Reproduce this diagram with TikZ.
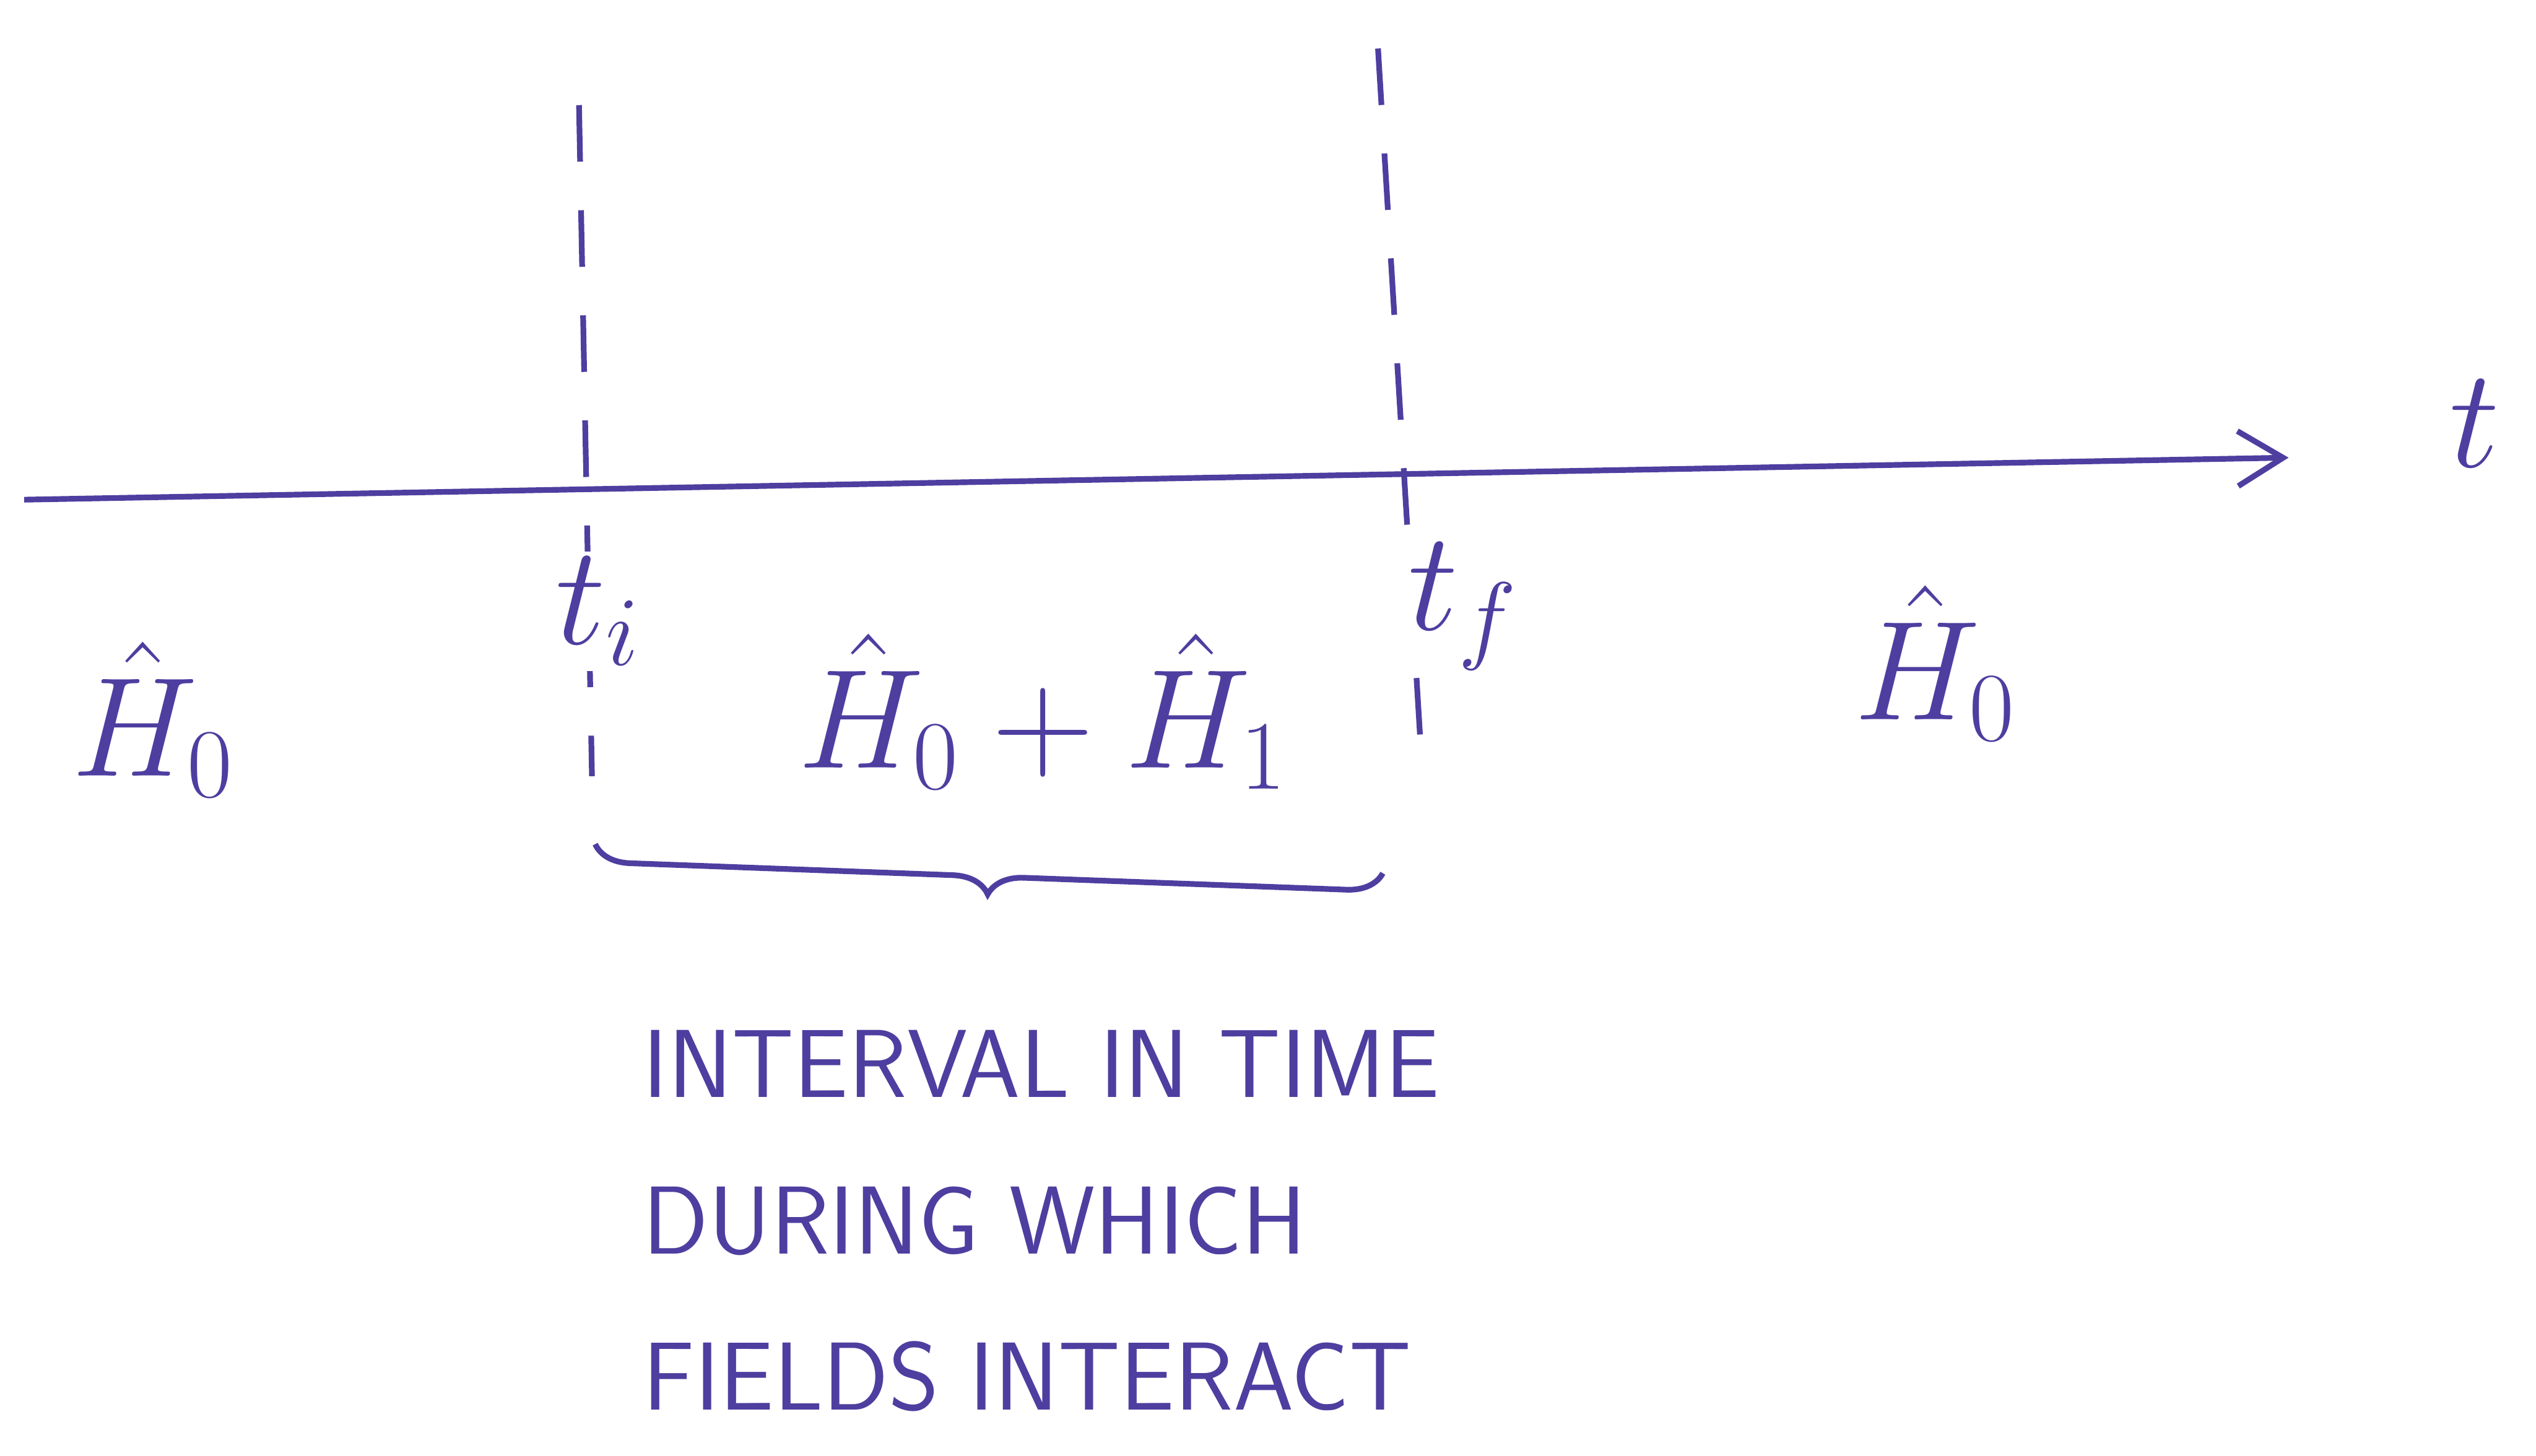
\documentclass[tikz,border=0pt]{standalone}
\usepackage{fontspec}
\usepackage{amsmath}
\definecolor{inkblue}{RGB}{78,62,160}
\usetikzlibrary{arrows.meta,positioning,decorations.pathreplacing}

\begin{document}
\begin{tikzpicture}[
  ink/.style={draw=inkblue,line width=1pt},
  cutline/.style={ink,dash pattern=on 3.5mm off 3mm},
  timelabel/.style={text=inkblue,fill=white,font=\fontsize{24}{28}\selectfont,inner sep=1pt},
  hamlabel/.style={text=inkblue,font=\fontsize{24}{28}\selectfont,inner sep=0pt},
  notetext/.style={text=inkblue,align=left,font=\sffamily\fontsize{17}{27.5}\selectfont,inner sep=0pt}
]
  \fill[white] (0,0) rectangle (15.68,9.00);
  \useasboundingbox (0,0) rectangle (15.68,9.00);
  % time axis
  \coordinate (axisL) at (0.15,5.91);
  \coordinate (axisR) at (14.15,6.17);
  \draw[ink,-{Straight Barb[length=2.8mm,width=3.4mm]}] (axisL) -- (axisR);
  \node[hamlabel] (tlab) at (15.30,6.38) {$t$};
  % switch-on and switch-off times
  \coordinate (tiTop) at (3.58,8.35);
  \coordinate (tiBot) at (3.66,4.20);
  \coordinate (tfTop) at (8.52,8.70);
  \coordinate (tfBot) at (8.78,4.45);
  \draw[cutline] (tiTop) -- (tiBot);
  \draw[cutline] (tfTop) -- (tfBot);
  \node[timelabel] (ti) at (3.70,5.22) {$t_i$};
  \node[timelabel] (tf) at (9.05,5.25) {$t_f$};
  % Hamiltonians
  \node[hamlabel] (hLeft) at (0.95,4.55) {$\hat{H}_0$};
  \node[hamlabel] (hMid) at (6.45,4.60) {$\hat{H}_0+\hat{H}_1$};
  \node[hamlabel] (hRight) at (11.97,4.90) {$\hat{H}_0$};
  % interaction interval
  \coordinate (braceL) at (3.68,3.78);
  \coordinate (braceR) at (8.55,3.60);
  \draw[ink,decorate,decoration={brace,mirror,amplitude=2.2mm}] (braceL) -- (braceR);
  \node[notetext,anchor=west] (note) at (3.97,1.45) {INTERVAL IN TIME\\DURING WHICH\\FIELDS INTERACT};
\end{tikzpicture}
\end{document}
